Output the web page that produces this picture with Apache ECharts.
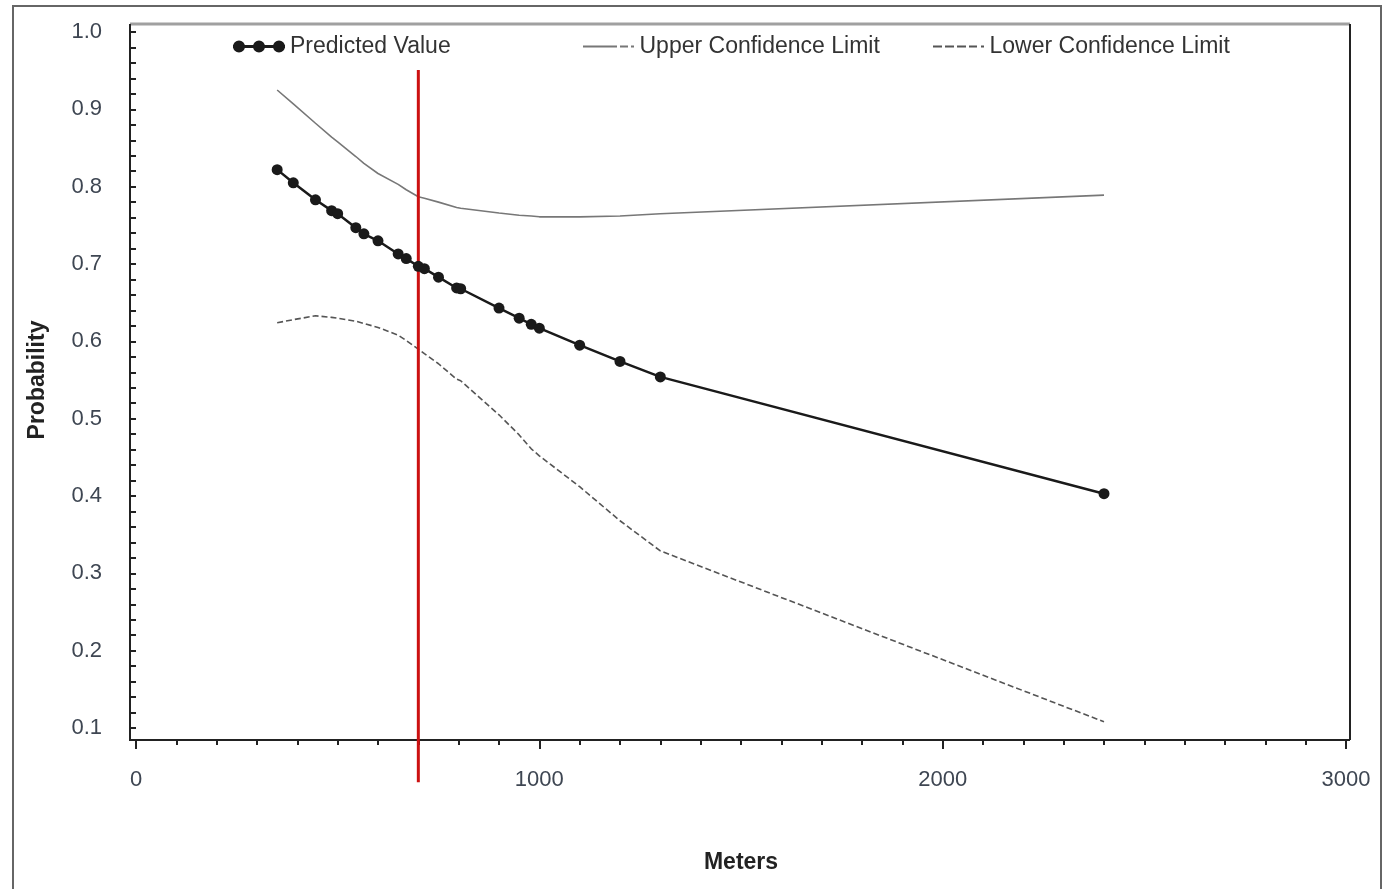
<!DOCTYPE html>
<html>
<head>
<meta charset="utf-8">
<script src="https://cdn.jsdelivr.net/npm/echarts@6/dist/echarts.min.js"></script>
<style>
html,body{margin:0;padding:0;background:#fff;}
#c{width:1385px;height:889px;}
</style>
</head>
<body>
<div id="c"></div>
<script>
// Data
const meters    = [350, 390, 445, 485, 500, 545, 565, 600, 650, 670, 700, 715, 750, 795, 805, 900, 950, 980, 1000, 1100, 1200, 1300, 2400];
const predicted = [0.822, 0.805, 0.783, 0.769, 0.765, 0.747, 0.739, 0.730, 0.713, 0.707, 0.697, 0.694, 0.683, 0.669, 0.668, 0.643, 0.630, 0.622, 0.617, 0.595, 0.574, 0.554, 0.403];
const upperCL   = [0.925, 0.907, 0.882, 0.864, 0.858, 0.839, 0.830, 0.817, 0.803, 0.796, 0.787, 0.785, 0.780, 0.773, 0.772, 0.766, 0.763, 0.762, 0.761, 0.761, 0.762, 0.765, 0.789];
const lowerCL   = [0.624, 0.628, 0.633, 0.631, 0.630, 0.626, 0.623, 0.618, 0.608, 0.601, 0.590, 0.584, 0.571, 0.551, 0.549, 0.505, 0.479, 0.461, 0.452, 0.412, 0.368, 0.329, 0.108];
const cutoffX   = 700;
const cutoffY   = [0.951, 0.030];
const seriesNames = ['Predicted Value', 'Upper Confidence Limit', 'Lower Confidence Limit'];

const FONT = "'Liberation Sans', Arial, sans-serif";
const pairs = (xs, ys) => xs.map((x, i) => [x, ys[i]]);

const chart = echarts.init(document.getElementById('c'), null, {renderer: 'canvas'});
const dotIcon   = 'path://M0,4.5H52V7.5H0Z M0,6a6,6 0 1,1 12,0a6,6 0 1,1 -12,0Z M20,6a6,6 0 1,1 12,0a6,6 0 1,1 -12,0Z M40,6a6,6 0 1,1 12,0a6,6 0 1,1 -12,0Z';
const solidIcon = 'path://M0,0H34V2H0Z M37,0H45V2H37Z M48,0H51V2H48Z';
const dashIcon  = 'path://M0,0H9V2H0Z M12,0H21V2H12Z M24,0H33V2H24Z M36,0H44V2H36Z M48,0H51V2H48Z';
const legendText = {fontFamily: FONT, fontSize: 23, color: '#333'};

chart.setOption({
  backgroundColor: '#fff',
  animation: false,
  textStyle: {fontFamily: FONT},
  graphic: [
    {type: 'rect', z: 0, shape: {x: 13, y: 6, width: 1368, height: 900}, style: {fill: 'none', stroke: '#666', lineWidth: 2}},
    {type: 'line', z: 0, shape: {x1: 130, y1: 24, x2: 1350, y2: 24}, style: {stroke: '#a0a0a0', lineWidth: 3}},
    {type: 'line', z: 0, shape: {x1: 1350, y1: 24, x2: 1350, y2: 740}, style: {stroke: '#222', lineWidth: 2}},
    {type: 'line', z: 0, shape: {x1: 130, y1: 24, x2: 130, y2: 741}, style: {stroke: '#222', lineWidth: 2}},
    {type: 'line', z: 0, shape: {x1: 129, y1: 740, x2: 1350, y2: 740}, style: {stroke: '#222', lineWidth: 2}}
  ],
  legend: [
    {data: [{name: seriesNames[0], icon: dotIcon}], left: 228, top: 30, itemWidth: 52, itemHeight: 12, textStyle: legendText, selectedMode: false},
    {data: [{name: seriesNames[1], icon: solidIcon, itemStyle: {color: '#777', borderWidth: 0}}], left: 578, top: 30, itemWidth: 52, itemHeight: 2, textStyle: legendText, selectedMode: false},
    {data: [{name: seriesNames[2], icon: dashIcon, itemStyle: {color: '#555', borderWidth: 0}}], left: 928, top: 30, itemWidth: 52, itemHeight: 2, textStyle: legendText, selectedMode: false}
  ],
  grid: {left: 136, right: 39, top: 32, bottom: 161, containLabel: false, outerBoundsMode: 'none'},
  xAxis: {
    type: 'value', min: 0, max: 3000, interval: 1000, offset: 12,
    name: 'Meters', nameLocation: 'middle', nameGap: 111,
    nameTextStyle: {fontFamily: FONT, fontSize: 23, fontWeight: 'bold', color: '#222'},
    axisLine: {show: false},
    axisTick: {show: true, length: 9, lineStyle: {color: '#222', width: 2}},
    minorTick: {show: true, splitNumber: 10, length: 5, lineStyle: {color: '#222', width: 2}},
    axisLabel: {margin: 29, fontFamily: FONT, fontSize: 22, color: '#3e4652', formatter: v => String(v)},
    splitLine: {show: false}
  },
  yAxis: {
    type: 'value', min: 0.1, max: 1.0, interval: 0.1, offset: 6,
    name: 'Probability', nameLocation: 'middle', nameGap: 81,
    nameTextStyle: {fontFamily: FONT, fontSize: 23, fontWeight: 'bold', color: '#222'},
    axisLine: {show: false},
    axisTick: {show: true, length: 5, lineStyle: {color: '#222', width: 2}},
    minorTick: {show: true, splitNumber: 5, length: 5, lineStyle: {color: '#222', width: 2}},
    axisLabel: {margin: 28, fontFamily: FONT, fontSize: 22, color: '#3e4652', formatter: v => v.toFixed(1)},
    splitLine: {show: false}
  },
  series: [
    {
      name: seriesNames[1], type: 'line', data: pairs(meters, upperCL),
      showSymbol: false, symbol: 'none', color: '#777',
      lineStyle: {color: '#777', width: 1.6, type: 'solid'}, z: 2
    },
    {
      name: seriesNames[2], type: 'line', data: pairs(meters, lowerCL),
      showSymbol: false, symbol: 'none', color: '#555',
      lineStyle: {color: '#555', width: 1.6, type: [6, 3]}, z: 2
    },
    {
      name: 'cutoff', type: 'line', data: [[cutoffX, cutoffY[0]], [cutoffX, cutoffY[1]]],
      clip: false, showSymbol: false, symbol: 'none',
      lineStyle: {color: '#cc1111', width: 3}, z: 3, silent: true
    },
    {
      name: seriesNames[0], type: 'line', data: pairs(meters, predicted),
      symbol: 'circle', symbolSize: 11, color: '#1a1a1a',
      itemStyle: {color: '#1a1a1a'},
      lineStyle: {color: '#1a1a1a', width: 2.5}, z: 4
    }
  ]
});
</script>
</body>
</html>
